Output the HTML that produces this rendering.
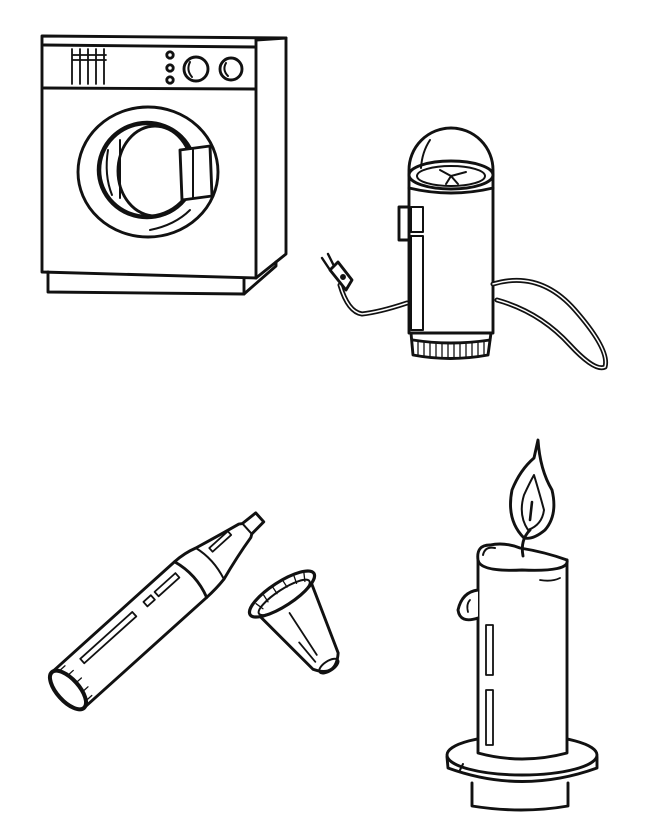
<!DOCTYPE html>
<html><head><meta charset="utf-8"><style>
html,body{margin:0;padding:0;background:#fff;}
svg{display:block;}
</style></head><body>
<svg width="650" height="837" viewBox="0 0 650 837" xmlns="http://www.w3.org/2000/svg" fill="none" stroke="#111" stroke-width="2.9" stroke-linejoin="round" stroke-linecap="round">
<!-- Washing machine -->
<path d="M42 36 L286 38 L286 254 L256 278 L42 272 Z" fill="#fff"/>
<path d="M256 40 L256 278"/>
<path d="M256 40 L286 38"/>
<path d="M44 45 L255 47"/>
<path d="M44 88 L255 89"/>
<path d="M48 272 L48 292 L244 294 L244 278"/>
<path d="M244 294 L276 266 L276 262"/>
<g stroke-width="1.8">
<path d="M72 49 L72 84 M80 49 L80 84 M88 49 L88 84 M96 49 L96 84 M104 49 L104 84 M72 55 L106 55 M72 60 L106 60"/>
</g>
<circle cx="170" cy="55" r="3.2"/><circle cx="170" cy="68" r="3.2"/><circle cx="170" cy="80" r="3.2"/>
<circle cx="196" cy="69" r="12"/><path d="M190 62 Q186 70 192 77" stroke-width="2"/>
<circle cx="231" cy="69" r="11"/><path d="M226 63 Q222 70 228 76" stroke-width="2"/>
<ellipse cx="148" cy="172" rx="70" ry="65"/>
<ellipse cx="147" cy="170" rx="48" ry="47" stroke-width="4.5"/>
<ellipse cx="155" cy="171" rx="37" ry="45"/>
<path d="M108 150 Q104 175 112 195 M120 198 L120 140" stroke-width="2"/>
<path d="M180 150 L210 146 L212 196 L182 200 Z" fill="#fff"/>
<path d="M193 150 L193 198" stroke-width="2"/>
<path d="M150 230 Q175 225 190 210" stroke-width="2"/>

<!-- Grinder -->
<path d="M409 170 A42 42 0 0 1 493 170 L493 333 L409 333 Z" fill="#fff"/>
<ellipse cx="451" cy="175" rx="42" ry="14"/>
<ellipse cx="451" cy="176" rx="34" ry="10" stroke-width="2"/>
<path d="M440 170 L451 176 L446 184 M451 176 L466 172 M451 176 L458 184" stroke-width="2"/>
<path d="M430 140 Q422 152 421 168" stroke-width="2"/>
<path d="M409 188 Q451 198 493 188"/>
<rect x="399" y="207" width="10" height="33" fill="#fff"/>
<rect x="411" y="207" width="12" height="25" stroke-width="2"/>
<rect x="411" y="236" width="12" height="94" stroke-width="2"/>
<path d="M411 333 L413 355 Q450 362 488 355 L491 333"/>
<path d="M413 340 Q450 346 490 340"/>
<g stroke-width="1.3"><path d="M418 342 L418 356 M424 343 L424 357 M430 343 L430 358 M436 344 L436 358 M442 344 L442 358 M448 344 L448 358 M454 344 L454 358 M460 344 L460 358 M466 344 L466 357 M472 343 L472 357 M478 343 L478 356 M484 342 L484 355"/></g>
<!-- cord left -->
<path d="M407 303 Q380 312 362 314 Q348 312 340 285" stroke-width="5"/>
<path d="M407 303 Q380 312 362 314 Q348 312 340 285" stroke="#fff" stroke-width="1.5"/>
<path d="M330 270 L338 262 L352 280 L346 290 Z" fill="#fff"/>
<path d="M330 270 L322 258 M334 266 L328 254" stroke-width="2.4"/>
<circle cx="343" cy="277" r="1.5"/>
<!-- cord right -->
<path d="M493 284 Q540 270 575 310 Q610 350 605 367 Q595 372 570 345 Q540 312 497 300" stroke-width="5"/>
<path d="M493 284 Q540 270 575 310 Q610 350 605 367 Q595 372 570 345 Q540 312 497 300" stroke="#fff" stroke-width="1.5"/>

<!-- Pen -->
<g transform="translate(68,690) rotate(-42)">
<path d="M0 -24 L165 -24 Q178 -24 190 -20 Q215 -14 238 -9 L241 -7 L258 -6 L258 6 L241 7 L238 9 Q215 14 190 22 Q178 24 165 24 L0 24" fill="#fff"/>
<path d="M165 -24 Q173 0 165 24"/>
<path d="M190 -20 Q196 0 190 22" stroke-width="2"/>
<path d="M241 -7 L241 7" stroke-width="2"/>
<ellipse cx="0" cy="0" rx="11" ry="24" fill="#fff" stroke-width="4"/>
<path d="M5 -22 Q18 0 5 23" stroke-width="2"/>
<g stroke-width="1.3"><path d="M6 -20 L14 -20 M10 -11 L17 -11 M10 0 L18 0 M10 11 L17 11 M6 20 L14 20"/></g>
<rect x="30" y="-15" width="70" height="6" stroke-width="1.8"/>
<rect x="115" y="-15" width="10" height="6" stroke-width="1.8"/>
<rect x="130" y="-15" width="28" height="6" stroke-width="1.8"/>
<rect x="200" y="-11" width="25" height="5" stroke-width="1.8"/>
</g>
<!-- Cap -->
<g transform="translate(282,594) rotate(57)">
<path d="M5 -31 L80 -15 Q100 0 80 15 L5 31 Z" fill="#fff"/>
<ellipse cx="0" cy="0" rx="12" ry="38" fill="#fff" stroke-width="3.2"/>
<ellipse cx="4" cy="0" rx="8" ry="30" stroke-width="2"/>
<g stroke-width="1.3"><path d="M-6 -30 L2 -26 M-9 -20 L-1 -18 M-11 -8 L-3 -8 M-11 4 L-3 4 M-9 16 L-1 16 M-6 27 L2 24"/></g>
<ellipse cx="86" cy="0" rx="5" ry="11" stroke-width="2"/>
<path d="M20 4 L70 4 M50 12 L75 9" stroke-width="1.8"/>
</g>

<!-- Candle -->
<path d="M472 783 L472 806 Q522 814 568 806 L568 783"/>
<ellipse cx="522" cy="755" rx="75" ry="20" fill="#fff"/>
<path d="M447 757 L448 768 Q522 795 597 768 L597 757"/>
<path d="M460 770 L463 764" stroke-width="2"/>
<path d="M478 560 L478 753 Q522 765 567 753 L567 560" fill="#fff"/>
<path d="M478 560 Q476 545 490 545 Q505 542 520 548 Q545 552 567 560 Q570 572 522 570 Q480 572 478 560 Z" fill="#fff"/>
<path d="M483 555 Q485 546 495 548" stroke-width="2"/>
<path d="M478 590 Q462 592 458 610 Q460 624 478 618" fill="#fff"/>
<path d="M468 612 Q466 604 470 600" stroke-width="1.8"/>
<rect x="486" y="625" width="7" height="50" stroke-width="1.8"/>
<rect x="486" y="690" width="7" height="55" stroke-width="1.8"/>
<path d="M540 580 Q552 582 560 578" stroke-width="1.8"/>
<path d="M523 556 Q520 540 530 530"/>
<path d="M524 538 Q506 520 512 490 Q520 470 534 458 L538 440 Q540 470 552 490 Q558 515 545 530 Q533 540 524 538 Z"/>
<path d="M528 530 Q518 515 524 495 Q530 482 534 475 Q540 495 544 510 Q542 525 528 530 Z" stroke-width="2"/>
<path d="M530 520 L532 502" stroke-width="2.6"/>
</svg>
</body></html>
